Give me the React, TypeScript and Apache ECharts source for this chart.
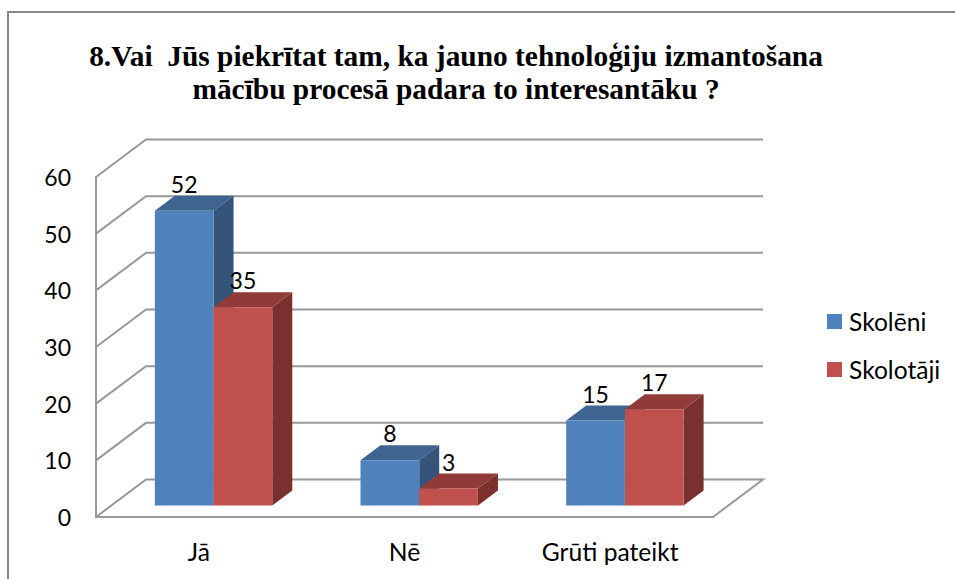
import React, { useEffect, useRef } from "react";
import * as echarts from "echarts";

const categories = ["Jā", "Nē", "Grūti pateikt"];
const skoleni = [52, 8, 15];
const skolotaji = [35, 3, 17];
const wallTicks = [0, 10, 20, 30, 40, 50, 60];
const titleText = "8.Vai  Jūs piekrītat tam, ka jauno tehnoloģiju izmantošana\nmācību procesā padara to interesantāku ?";

const LINE = "#989898";
const WALL_DX = 50;
const WALL_DY = 37.5;
const BAR_DX = 20;
const BAR_DY = 15;
const BAR_OFF_X = -44;
const BAR_OFF_Y = 11.5;
const LABEL_FONT = "Lato, 'Open Sans', sans-serif";

function wallItem(params: any, api: any) {
  const cs = params.coordSys;
  const v = api.value(0);
  const y = api.coord([0, v])[1];
  const x0 = cs.x;
  const x1 = cs.x + cs.width;
  const points: number[][] = [
    [x0, y],
    [x0 + WALL_DX, y - WALL_DY],
    [x1 + WALL_DX, y - WALL_DY],
  ];
  if (v === 0) points.push([x1, y]);
  return {
    type: "polyline",
    silent: true,
    shape: { points },
    style: { stroke: LINE, lineWidth: 2, fill: "none" },
  };
}

function barRenderer(seriesPos: number, front: string, top: string, side: string) {
  return (params: any, api: any) => {
    const idx = api.value(0);
    const val = api.value(1);
    const band = api.size([1, 0])[0];
    const w = band * 0.2855;
    const c0 = api.coord([idx, 0]);
    const c1 = api.coord([idx, val]);
    const x = c0[0] + BAR_OFF_X + seriesPos * w;
    const yB = c0[1] - BAR_OFF_Y;
    const yT = c1[1] - BAR_OFF_Y;
    return {
      type: "group",
      silent: true,
      children: [
        {
          type: "polygon",
          shape: { points: [[x + w, yT], [x + w + BAR_DX, yT - BAR_DY], [x + w + BAR_DX, yB - BAR_DY], [x + w, yB]] },
          style: { fill: side },
        },
        {
          type: "polygon",
          shape: { points: [[x, yT], [x + BAR_DX, yT - BAR_DY], [x + w + BAR_DX, yT - BAR_DY], [x + w, yT]] },
          style: { fill: top },
        },
        {
          type: "rect",
          shape: { x, y: yT, width: w, height: yB - yT },
          style: { fill: front },
        },
        {
          type: "text",
          x: x + w / 2,
          y: yT - 27,
          style: {
            text: String(val),
            fontSize: 23,
            fontFamily: LABEL_FONT,
            fill: "#000000",
            align: "center",
            verticalAlign: "middle",
            textAlign: "center",
            textVerticalAlign: "middle",
          },
        },
      ],
    };
  };
}

export default function App() {
  const ref = useRef<HTMLDivElement>(null);
  useEffect(() => {
    const chart = echarts.init(ref.current!, undefined, { renderer: "svg" });
    chart.setOption({
      animation: false,
      backgroundColor: "#ffffff",
      title: {
        text: titleText,
        left: 451,
        top: 34,
        textAlign: "center",
        textStyle: {
          fontFamily: "'Liberation Serif', serif",
          fontWeight: "bold",
          fontSize: 29.4,
          lineHeight: 33,
          color: "#000000",
        },
      },
      legend: {
        orient: "vertical",
        left: 822,
        top: 304,
        icon: "rect",
        itemWidth: 15,
        itemHeight: 15,
        itemGap: 23,
        selectedMode: false,
        textStyle: { fontFamily: LABEL_FONT, fontSize: 24.6, color: "#000000", padding: [0, 0, 0, 2], height: 25, lineHeight: 25 },
        data: ["Skolēni", "Skolotāji"],
      },
      grid: { left: 96, right: 242, top: 177, bottom: 62 },
      xAxis: {
        type: "category",
        data: categories,
        axisTick: { show: false },
        axisLine: { lineStyle: { color: LINE, width: 2 } },
        axisLabel: { fontFamily: LABEL_FONT, fontSize: 24.6, color: "#000000", margin: 22 },
      },
      yAxis: {
        type: "value",
        min: 0,
        max: 60,
        interval: 10,
        splitLine: { show: false },
        axisTick: { show: false },
        axisLine: { show: true, lineStyle: { color: LINE, width: 2 } },
        axisLabel: { fontFamily: LABEL_FONT, fontSize: 23, color: "#000000", margin: 25 },
      },
      graphic: [
        {
          type: "polyline",
          silent: true,
          shape: { points: [[8, 579], [8, 12], [955, 12]] },
          style: { stroke: "#868686", lineWidth: 2, fill: "none" },
        },
      ],
      series: [
        {
          type: "custom",
          name: "walls",
          silent: true,
          clip: false,
          z: 1,
          data: wallTicks.map((t) => [t]),
          encode: { y: 0 },
          renderItem: wallItem,
        },
        {
          type: "custom",
          name: "Skolēni",
          silent: true,
          clip: false,
          z: 2,
          itemStyle: { color: "#4F81BD" },
          data: skoleni.map((v, i) => [i, v]),
          encode: { x: 0, y: 1 },
          renderItem: barRenderer(0, "#4F81BD", "#3E648F", "#345479"),
        },
        {
          type: "custom",
          name: "Skolotāji",
          silent: true,
          clip: false,
          z: 3,
          itemStyle: { color: "#C0504D" },
          data: skolotaji.map((v, i) => [i, v]),
          encode: { x: 0, y: 1 },
          renderItem: barRenderer(1, "#C0504D", "#913B39", "#7A302E"),
        },
      ],
    });
    return () => chart.dispose();
  }, []);
  return <div ref={ref} style={{ position: "absolute", left: 0, top: 0, width: 955, height: 579 }} />;
}
